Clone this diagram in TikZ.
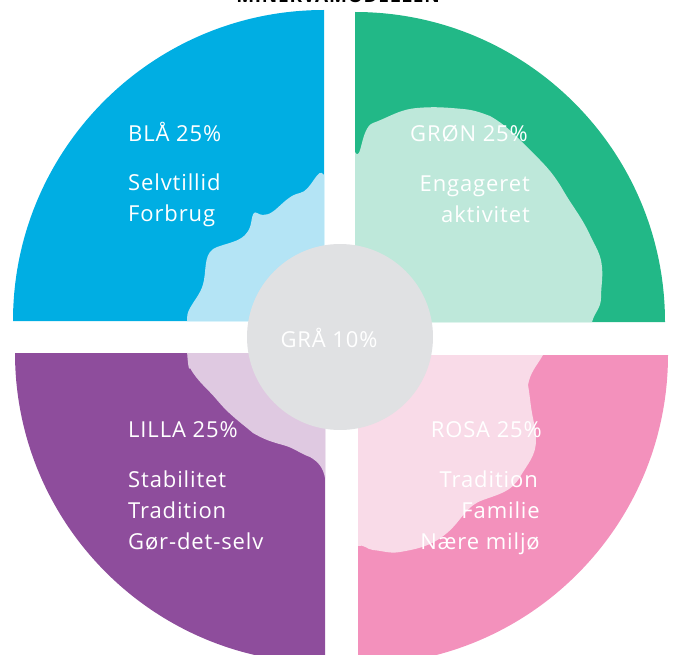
\documentclass[tikz,border=0pt]{standalone}
\usepackage{fontspec}
\setmainfont{Open Sans}[LetterSpace=4]
\definecolor{cblue}{RGB}{0,174,227}
\definecolor{cgreen}{RGB}{34,184,135}
\definecolor{cpurple}{RGB}{142,77,156}
\definecolor{cpink}{RGB}{243,145,188}
\definecolor{cgray}{RGB}{224,225,227}
\definecolor{lblue}{RGB}{180,228,245}
\definecolor{lgreen}{RGB}{190,232,218}
\definecolor{lpurple}{RGB}{223,201,225}
\definecolor{lpink}{RGB}{249,219,232}
\tikzset{
  lbl/.style={text=white, font=\fontsize{22}{31}\selectfont, inner sep=0pt, anchor=base west},
  lblr/.style={text=white, font=\fontsize{22}{31}\selectfont, inner sep=0pt, anchor=base east},
}
\begin{document}
\begin{tikzpicture}[x=1pt,y=-1pt]
\useasboundingbox (0,0) rectangle (675,655);
% quadrants
\fill[cblue] (324,321) -- (13,321) arc[start angle=180, end angle=270, radius=311] -- cycle;
\fill[cgreen] (355,322) -- (355,12) arc[start angle=-90, end angle=0, radius=310] -- cycle;
\fill[cpurple] (325,353) -- (15,353) arc[start angle=180, end angle=90, radius=310] -- cycle;
\fill[cpink] (358,355) -- (668,355) arc[start angle=0, end angle=90, radius=310] -- cycle;
% light blobs
\fill[lblue] (324,321) -- (324,175) to[out=120,in=10] (300,193)
  to[out=190,in=-30] (257,213) to[out=150,in=70] (250,227)
  to[out=250,in=20] (217,247) to[out=200,in=80] (204,280)
  to[out=260,in=60] (190,308) to[out=240,in=90] (187,321) -- cycle;
\fill[lgreen] (355,322) -- (355,152) to[out=-60,in=200] (373,123)
  to[out=20,in=185] (417,108) to[out=5,in=175] (463,109)
  to[out=-5,in=160] (490,116) to[out=-30,in=135] (527,147)
  to[out=-45,in=120] (563,190) to[out=-60,in=115] (590,235)
  to[out=-65,in=95] (602,267) to[out=-85,in=90] (601,298)
  to[out=-90,in=75] (592,322) -- cycle;
\fill[lpurple] (325,353) -- (187,353) to[out=90,in=-110] (190,368)
  to[out=-60,in=130] (217,400) to[out=-50,in=140] (253,433)
  to[out=-30,in=165] (283,445) to[out=-15,in=160] (310,457)
  to[out=-30,in=100] (325,478) -- cycle;
\fill[lpink] (358,355) -- (543,355) to[out=240,in=80] (528,385)
  to[out=-80,in=100] (532,413) to[out=-80,in=90] (536,440)
  to[out=-90,in=60] (520,477) to[out=240,in=20] (483,500)
  to[out=200,in=40] (447,533) to[out=220,in=10] (400,552)
  to[out=190,in=-5] (373,550) to[out=175,in=20] (358,546) -- cycle;
% centre
\node[circle, fill=cgray, minimum size=186pt, inner sep=0pt] (grey) at (340,337) {};
\node[lbl, anchor=base] (gra) at (329,347) {GRÅ 10\%};
% labels
\node[lbl] (blah) at (128,142) {BLÅ 25\%};
\node[lbl] (bla1) at (128,191) {Selvtillid};
\node[lbl] (bla2) at (128,222) {Forbrug};
\node[lblr] (grnh) at (528,142) {GRØN 25\%};
\node[lblr] (grn1) at (530,192) {Engageret};
\node[lblr] (grn2) at (530,223) {aktivitet};
\node[lbl] (lilh) at (128,437) {LILLA 25\%};
\node[lbl] (lil1) at (128,487) {Stabilitet};
\node[lbl] (lil2) at (128,518) {Tradition};
\node[lbl] (lil3) at (128,549) {Gør-det-selv};
\node[lblr] (rosh) at (542,437) {ROSA 25\%};
\node[lblr] (ros1) at (538,487) {Tradition};
\node[lblr] (ros2) at (540,518) {Familie};
\node[lblr] (ros3) at (540,549) {Nære miljø};
% cut-off title
\node[inner sep=0pt, anchor=base, font=\bfseries\fontsize{19}{19}\selectfont] (title) at (338,3) {MINERVAMODELLEN};
\end{tikzpicture}
\end{document}
